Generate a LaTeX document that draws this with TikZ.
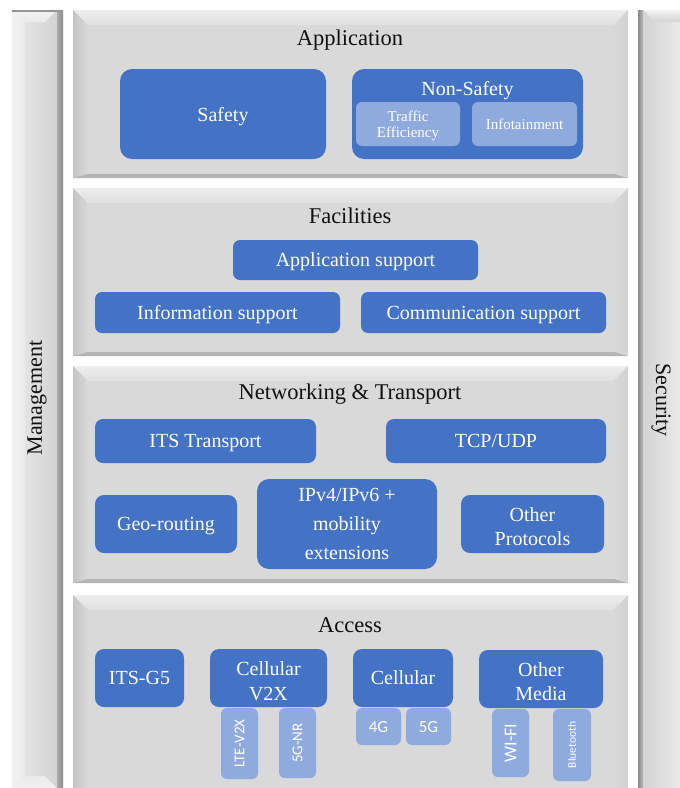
\documentclass[tikz,border=0pt]{standalone}
\usepackage{fontspec}
\setmainfont{Liberation Serif}
\newfontfamily\carl{Carlito}
\definecolor{accent}{HTML}{4472C4}
\definecolor{lightacc}{HTML}{8FAADC}
\definecolor{face}{HTML}{D9D9D9}
\definecolor{bvtopA}{HTML}{EDEDED}
\definecolor{bvtopB}{HTML}{E0E0E0}
\definecolor{bvleftA}{HTML}{C4C4C4}
\definecolor{bvright}{HTML}{D2D2D2}
\definecolor{bvbottom}{HTML}{B4B4B4}
\definecolor{pilA}{HTML}{EAEAEA}
\definecolor{pilB}{HTML}{D3D3D3}
\definecolor{pildark}{HTML}{8A8A8A}
\definecolor{titlegray}{HTML}{111111}
\tikzset{
  dbox/.style={draw=none, fill=accent, text=white, rounded corners=9pt, inner sep=0pt, align=center, text depth=0pt, font=\fontsize{20}{25}\selectfont},
  lbox/.style={draw=none, fill=lightacc, text=white, rounded corners=6pt, inner sep=0pt, align=center, text depth=0pt},
  ltitle/.style={font=\fontsize{22.5}{26}\selectfont, text=titlegray, inner sep=0pt, text depth=0pt},
  piltext/.style={font=\fontsize{22}{26}\selectfont, text=titlegray, inner sep=0pt},
}
\newcommand{\itslayer}[4]{%
  \fill[face] (#1,#2) rectangle (#3,#4);
  \shade[top color=bvtopA, bottom color=bvtopB] (#1,#2) -- (#3,#2) -- ({#3-14},{#2+15}) -- ({#1+15},{#2+15}) -- cycle;
  \shade[left color=bvleftA, right color=face] (#1,#2) -- ({#1+15},{#2+15}) -- ({#1+15},{#4-4}) -- (#1,#4) -- cycle;
  \shade[left color=face, right color=bvright] (#3,#2) -- (#3,#4) -- ({#3-14},{#4-4}) -- ({#3-14},{#2+15}) -- cycle;
  \fill[bvbottom] (#1,#4) -- (#3,#4) -- ({#3-14},{#4-4}) -- ({#1+15},{#4-4}) -- cycle;
}
\newcommand{\upstrut}{\rule{0pt}{19pt}}
\begin{document}
\begin{tikzpicture}[x=1pt,y=-1pt]
\useasboundingbox (0,0) rectangle (680,788);
\fill[white] (0,0) rectangle (680,788);

% left pillar (Management)
\shade[left color=pilA, right color=pilB] (12,10) rectangle (57,800);
\shade[left color=pilA!60!white, right color=pilA] (12,10) -- (25,22) -- (25,776) -- (12,788) -- cycle;
\shade[left color=pildark!70, right color=pildark] (57,10) rectangle (63,800);
\shade[top color=pilA!60!white, bottom color=pilA] (12,10) -- (57,10) -- (45,22) -- (25,22) -- cycle;
\fill[pildark!90] (12,10) rectangle (61,11.8);
\shade[top color=pilA, bottom color=pilA!70!white] (12,788) -- (25,776) -- (45,776) -- (57,788) -- cycle;

% right pillar (Security)
\shade[left color=pildark, right color=pildark!60] (638,10) rectangle (643,800);
\shade[left color=pilB, right color=pilA] (643,10) rectangle (680,800);
\shade[top color=pilA!60!white, bottom color=pilB] (643,10) -- (680,10) -- (680,22) -- (655,22) -- cycle;

% layers
\itslayer{73}{10}{628}{178}
\itslayer{73}{188}{628}{356}
\itslayer{73}{366}{628}{583}
\itslayer{73}{595}{628}{800}

% pillar texts
\node[piltext, rotate=90] (mgmt) at (37,398) {Management};
\node[piltext, rotate=-90] (sec) at (661,400) {Security};

% Application
\node[ltitle] (tapp) at (350,38) {Application};
\node[dbox, rounded corners=12pt, minimum width=206, minimum height=90] (safety) at (223,114) {Safety};
\node[dbox, rounded corners=12pt, minimum width=231, minimum height=90] (nonsafety) at (467.5,114) {};
\node[font=\fontsize{20}{24}\selectfont, text=white, inner sep=0pt, text depth=0pt] (nstitle) at (467.5,88) {Non-Safety};
\node[lbox, minimum width=104, minimum height=44, font=\fontsize{15}{16}\selectfont] (traffic) at (408,124) {Traffic\\Efficiency};
\node[lbox, minimum width=105, minimum height=44, font=\fontsize{15}{18}\selectfont] (infot) at (524.5,124) {Infotainment};

% Facilities
\node[ltitle] (tfac) at (350,216) {Facilities};
\node[dbox, rounded corners=7pt, minimum width=245, minimum height=40] (appsup) at (355.5,260) {Application support};
\node[dbox, rounded corners=7pt, minimum width=245, minimum height=41] (infsup) at (217.5,312.5) {Information support};
\node[dbox, rounded corners=7pt, minimum width=245, minimum height=41] (comsup) at (483.5,312.5) {Communication support};

% Networking & Transport
\node[ltitle] (tnet) at (350,392) {Networking \& Transport};
\node[dbox, rounded corners=8pt, minimum width=221, minimum height=44] (itstr) at (205.5,441) {ITS Transport};
\node[dbox, rounded corners=8pt, minimum width=220, minimum height=44] (tcp) at (496,441) {TCP/UDP};
\node[dbox, minimum width=142, minimum height=58] (geo) at (166,524) {Geo-routing};
\node[dbox, rounded corners=12pt, minimum width=180, minimum height=90, font=\fontsize{20}{29}\selectfont] (ipv) at (347,524) {IPv4/IPv6 +\\mobility\\extensions};
\node[dbox, minimum width=143, minimum height=58, font=\fontsize{20}{24}\selectfont] (otherp) at (532.5,524) {\upstrut Other\\Protocols};

% Access
\node[ltitle] (tacc) at (350,625) {Access};
\node[lbox, rotate=90, minimum width=71, minimum height=37, font=\carl\fontsize{15}{18}\selectfont] (lte) at (239.5,743.5) {LTE-V2X};
\node[lbox, rotate=90, minimum width=70, minimum height=37, font=\carl\fontsize{15}{18}\selectfont] (nr) at (297.5,743) {5G-NR};
\node[lbox, minimum width=45, minimum height=37, font=\carl\fontsize{17}{20}\selectfont] (g4) at (378.5,726.5) {4G};
\node[lbox, minimum width=45, minimum height=37, font=\carl\fontsize{17}{20}\selectfont] (g5) at (428.5,726.5) {5G};
\node[lbox, rotate=90, minimum width=68, minimum height=37, font=\carl\fontsize{18}{20}\selectfont] (wifi) at (510.5,743) {WI-FI};
\node[lbox, rotate=90, minimum width=72, minimum height=38, font=\carl\fontsize{11.5}{14}\selectfont] (bt) at (572,745) {Bluetooth};
\node[dbox, minimum width=89, minimum height=58] (itsg5) at (139.5,678) {ITS-G5};
\node[dbox, minimum width=117, minimum height=58, font=\fontsize{20}{25}\selectfont] (cv2x) at (268.5,678) {\upstrut Cellular\\V2X};
\node[dbox, minimum width=100, minimum height=58] (cell) at (403,678) {Cellular};
\node[dbox, minimum width=124, minimum height=58, font=\fontsize{20}{24}\selectfont] (othm) at (541,679) {\upstrut Other\\Media};
\end{tikzpicture}
\end{document}
